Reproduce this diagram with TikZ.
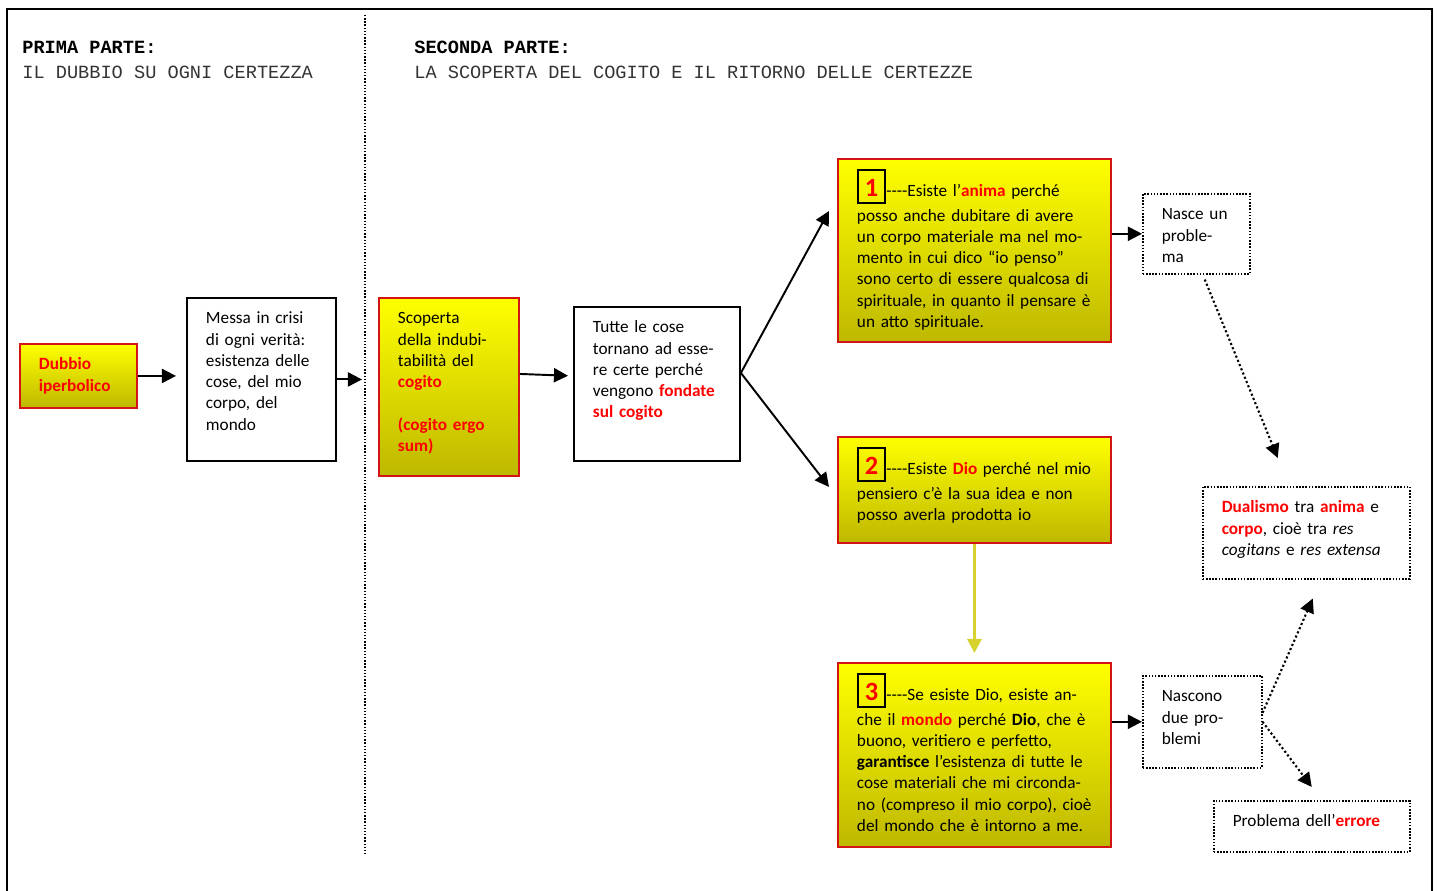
\documentclass[tikz,border=0pt]{standalone}
\usepackage{fontspec}
\setmainfont{Carlito}
\newfontfamily\monofont{Liberation Mono}
\usetikzlibrary{arrows.meta}
\definecolor{giallo}{RGB}{255,255,0}
\definecolor{oliva}{RGB}{190,184,0}
\definecolor{bordo}{RGB}{210,20,20}
\definecolor{freccia}{RGB}{215,210,45}
\newcommand{\rosso}[1]{\textcolor{red}{\textbf{#1}}}
\newcommand{\numbox}[1]{{\setlength{\fboxsep}{0pt}\setlength{\fboxrule}{1.1pt}\fbox{\makebox[14.5pt]{\rule[-3pt]{0pt}{17.8pt}\fontsize{15pt}{15pt}\selectfont\bfseries\color{red}#1}}}}
\newcommand{\trattini}{-{}-{}-{}-}

\begin{document}
\begin{tikzpicture}[x=0.02cm, y=-0.02cm,
  box/.style={draw, line width=1.1pt, anchor=north west, align=left, inner xsep=0.38cm, inner ysep=0.1cm, text height=0.42cm, font=\fontsize{9.8pt}{12.1pt}\selectfont},
  gbox/.style={box, draw=bordo, top color=giallo, bottom color=oliva},
  nbox/.style={gbox, text height=0.66cm},
  dbox/.style={box, line width=0.9pt, dash pattern=on 0.9pt off 0.9pt},
  arrow/.style={-{Triangle[length=8pt,width=8pt]}, line width=1.1pt},
  darrow/.style={arrow, line width=1.2pt, dash pattern=on 1.2pt off 1.4pt},
  hdr/.style={anchor=west, align=left, inner sep=0pt, font=\monofont\fontsize{10.6pt}{14.2pt}\selectfont},
]
\useasboundingbox (0,0) rectangle (1438,891);

% Frame and divider
\draw[line width=1.1pt] (7,891) -- (7,9) -- (1432,9) -- (1432,891);
\coordinate (divtop) at (365,15);
\coordinate (divbot) at (365,855);
\draw[line width=0.8pt, dash pattern=on 0.8pt off 1pt] (divtop) -- (divbot);

% Headers
\node[hdr] (prima) at (22,60) {\textbf{PRIMA PARTE:}\\\textcolor{black!80}{IL DUBBIO SU OGNI CERTEZZA}};
\node[hdr] (seconda) at (414,60) {\textbf{SECONDA PARTE:}\\\textcolor{black!80}{LA SCOPERTA DEL COGITO E IL RITORNO DELLE CERTEZZE}};

% First part
\node[gbox, text width=1.58cm, text depth=0.66cm] (dubbio) at (19,343) {\rosso{Dubbio}\\\rosso{iperbolico}};
\node[box, text width=2.22cm, text depth=2.64cm] (messa) at (186,297) {Messa in crisi\\di ogni verità:\\esistenza delle\\cose, del mio\\corpo, del\\mondo};

% Second part
\node[gbox, text width=2.04cm, text depth=2.94cm] (scoperta) at (378,297) {Scoperta\\della indubi-\\tabilità del\\\rosso{cogito}\\[12.1pt]\rosso{(cogito ergo}\\\rosso{sum)}};
\node[box, text width=2.56cm, text depth=2.46cm] (tutte) at (573,306) {Tutte le cose\\tornano ad esse-\\re certe perché\\vengono \rosso{fondate}\\\rosso{sul cogito}};

\node[nbox, text width=4.7cm, text depth=2.8cm] (box1) at (837,158) {\numbox{1}\trattini Esiste l’\rosso{anima} perché\\[1.7pt]posso anche dubitare di avere\\un corpo materiale ma nel mo-\\mento in cui dico “io penso”\\sono certo di essere qualcosa di\\spirituale, in quanto il pensare è\\un atto spirituale.};
\node[nbox, text width=4.7cm, text depth=1.26cm] (box2) at (837,436) {\numbox{2}\trattini Esiste \rosso{Dio} perché nel mio\\[1.7pt]pensiero c’è la sua idea e non\\posso averla prodotta io};
\node[nbox, text width=4.7cm, text depth=2.82cm] (box3) at (837,662) {\numbox{3}\trattini Se esiste Dio, esiste an-\\[1.7pt]che il \rosso{mondo} perché \textbf{Dio}, che è\\buono, veritiero e perfetto,\\\textbf{garantisce} l’esistenza di tutte le\\cose materiali che mi circonda-\\no (compreso il mio corpo), cioè\\del mondo che è intorno a me.};

\node[dbox, text width=1.38cm, text depth=0.98cm] (nasce) at (1142,193) {Nasce un\\proble-\\ma};
\node[dbox, text width=3.38cm, text depth=1.22cm] (dualismo) at (1202,486) {\rosso{Dualismo} tra \rosso{anima} e\\\rosso{corpo}, cioè tra \emph{res}\\\emph{cogitans} e \emph{res extensa}};
\node[dbox, text width=1.62cm, text depth=1.22cm] (nascono) at (1142,675) {Nascono\\due pro-\\blemi};
\node[dbox, text width=3.16cm, text depth=0.4cm] (problema) at (1213,800) {Problema dell’\rosso{errore}};

% Connectors
\draw[arrow, shorten >=0.2cm] (dubbio.east) -- (dubbio.east -| messa.west);
\draw[arrow, shorten >=0.06cm] (messa.east) -- (messa.east -| divtop);
\draw[arrow, shorten >=0.1cm] ([yshift=0.26cm]scoperta.east) -- ([yshift=0.16cm]tutte.west);
\coordinate (bivio) at ([yshift=0.22cm]tutte.east);
\draw[arrow] (bivio) -- ([xshift=-0.16cm,yshift=0.79cm]box1.west);
\draw[arrow] (bivio) -- ([xshift=-0.16cm,yshift=0.06cm]box2.west);
\draw[arrow] (box1.east |- nasce.west) -- (nasce.west);
\draw[arrow, freccia, line width=1.7pt, shorten >=0.18cm] (box2.south) -- (box3.north);
\draw[arrow] (box3.east |- nascono.west) -- (nascono.west);

% Dotted connectors
\draw[darrow] ([xshift=0.17cm,yshift=-0.1cm]nasce.south) -- ([xshift=-0.57cm,yshift=0.56cm]dualismo.north);
\draw[darrow] ([yshift=0.18cm]nascono.east) -- ([xshift=0.13cm,yshift=-0.38cm]dualismo.south);
\draw[darrow] (nascono.east) -- ([yshift=0.26cm]problema.north);

\end{tikzpicture}
\end{document}
